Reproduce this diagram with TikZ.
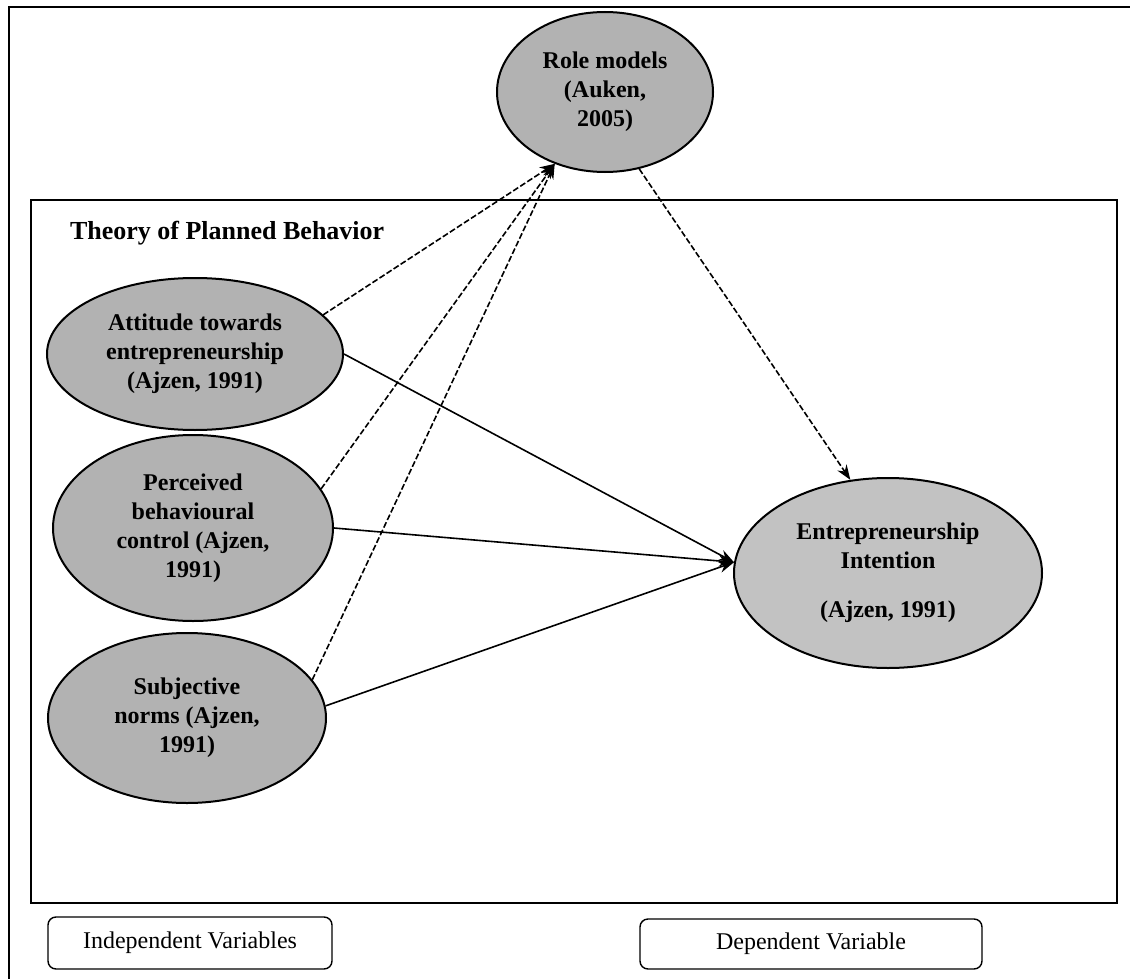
\documentclass[tikz,border=0pt]{standalone}
\usepackage{fontspec}
\setmainfont{Liberation Serif}
\usetikzlibrary{shapes.geometric,arrows.meta}
\tikzset{
	factor/.style={
			ellipse, draw, line width=1pt, fill=black!30, inner sep=0pt,
			align=center, font=\bfseries\fontsize{12}{14.5}\selectfont
		},
	legend/.style={
			draw, rounded corners=4pt, line width=0.7pt,
			font=\fontsize{12}{14}\selectfont
		},
	direct/.style={-{Stealth[length=7.5pt,width=5.5pt]}, line width=0.8pt},
	indirect/.style={direct, dash pattern=on 3pt off 1.2pt}
}

\begin{document}
\begin{tikzpicture}[x=0.5pt, y=-0.5pt]
	\useasboundingbox (0,0) rectangle (1130,979);
	% frame
	\draw[line width=0.8pt] (1130,7) -- (9,7) -- (9,979);
	\draw[line width=0.8pt] (31,200) rectangle (1117,903);

	\node[anchor=west, font=\bfseries\fontsize{13}{15}\selectfont] (tpb) at (63,233) {Theory of Planned Behavior};

	% variables
	\node[factor, minimum width=148pt, minimum height=76pt] (att) at (195,354)
		{Attitude towards\\entrepreneurship\\(Ajzen, 1991)};
	\node[factor, minimum width=140pt, minimum height=93pt] (pbc) at (193,528)
		{Perceived\\behavioural\\control (Ajzen,\\1991)};
	\node[factor, minimum width=139pt, minimum height=85pt] (sn) at (187,718)
		{Subjective\\norms (Ajzen,\\1991)};
	\node[factor, minimum width=108pt, minimum height=80pt] (role) at (605,92)
		{Role models\\(Auken,\\2005)};
	\node[factor, fill=black!24, minimum width=154pt, minimum height=95pt] (ent) at (888,573)
		{Entrepreneurship\\Intention\\[10pt](Ajzen, 1991)};

	\node[legend, minimum width=142pt, minimum height=26pt] (iv) at (190,943) {Independent Variables};
	\node[legend, minimum width=171pt, minimum height=25pt] (dv) at (811,944) {Dependent Variable};

	% arrows
	\draw[indirect] (att.17) -- (role.235);
	\draw[indirect] (pbc.17) -- (role.235);
	\draw[indirect] (sn.17) -- (role.235);
	\draw[indirect] (role.294) -- (ent.112);

	\draw[direct] (att.east) -- (ent.176);
	\draw[direct] (pbc.east) -- (ent.176);
	\draw[direct] (sn.5) -- (ent.176);
\end{tikzpicture}
\end{document}
